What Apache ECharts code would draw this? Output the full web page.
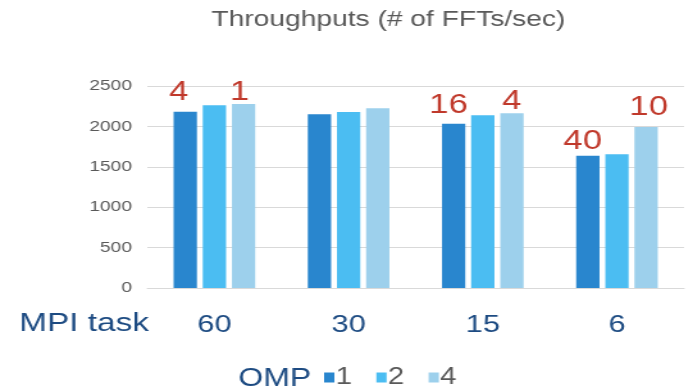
<!DOCTYPE html>
<html>
<head>
<meta charset="utf-8">
<script src="https://cdn.jsdelivr.net/npm/echarts@6/dist/echarts.min.js"></script>
<style>
  html, body { margin: 0; padding: 0; background: #fff; overflow: hidden; }
  /* chart is laid out narrow and widened horizontally */
  #stage { width: 541px; height: 390px; transform: scaleX(1.281); transform-origin: 0 0; }
</style>
</head>
<body>
<div id="stage"></div>
<script>
// MPI task counts along the x axis
const mpiTasks = ['60', '30', '15', '6'];
// Throughputs (FFTs/sec) per OMP thread count
const omp1 = [2182, 2149, 2034, 1637];
const omp2 = [2261, 2178, 2137, 1654];
const omp4 = [2277, 2224, 2162, 1993];
// red annotations above selected bars
const omp1Notes = ['4', '', '16', '40'];
const omp2Notes = ['', '', '', ''];
const omp4Notes = ['1', '', '4', '10'];
// y axis ticks
const yTicks = [0, 500, 1000, 1500, 2000, 2500];

// layout nudges for the annotations [dx, dy]
const noteNudge = {
  '0-0': [-5, -6], '0-2': [-4, -5], '0-3': [-4, -1],
  '2-0': [-3, 2],  '2-2': [0, 2],   '2-3': [2, -6]
};

const FONT = 'Arial, "Liberation Sans", sans-serif';
const GRAY = '#595959';
const NAVY = '#1d4b82';
const RED = '#c0392b';
const colors = ['#2986ce', '#4bbdf2', '#9dd0ec'];

function buildData(values, notes, s) {
  return values.map((v, i) => {
    if (!notes[i]) return v;
    const off = noteNudge[s + '-' + i] || [0, 0];
    return {
      value: v,
      label: { show: true, formatter: notes[i], offset: off }
    };
  });
}

const seriesDefs = [
  { name: '1', values: omp1, notes: omp1Notes },
  { name: '2', values: omp2, notes: omp2Notes },
  { name: '4', values: omp4, notes: omp4Notes }
];

const chart = echarts.init(document.getElementById('stage'), null, { renderer: 'canvas' });
chart.setOption({
  animation: false,
  color: colors,
  textStyle: { fontFamily: FONT },
  title: [
    { text: 'Throughputs (# of FFTs/sec)', left: 165, top: 9, padding: 0,
      textStyle: { fontFamily: FONT, fontSize: 22, fontWeight: 'normal', color: GRAY } },
    { text: 'MPI task', left: 15, top: 311, padding: 0,
      textStyle: { fontFamily: FONT, fontSize: 26, fontWeight: 'normal', color: NAVY } },
    { text: 'OMP', left: 186, top: 367, padding: 0,
      textStyle: { fontFamily: FONT, fontSize: 25, fontWeight: 'normal', color: NAVY } }
  ],
  legend: {
    data: ['1', '2', '4'],
    left: 253, top: 366, padding: 0,
    icon: 'rect', itemWidth: 8, itemHeight: 10, itemGap: 19,
    textStyle: { fontFamily: FONT, fontSize: 23, color: GRAY, padding: [0, 0, 0, -4] }
  },
  grid: { left: 115, right: 7, top: 86, bottom: 102 },
  xAxis: {
    type: 'category',
    data: mpiTasks,
    axisLine: { lineStyle: { color: '#d9d9d9', width: 1 } },
    axisTick: { show: false },
    axisLabel: { margin: 25, fontFamily: FONT, fontSize: 24, color: NAVY }
  },
  yAxis: {
    type: 'value',
    min: yTicks[0], max: yTicks[yTicks.length - 1], interval: yTicks[1] - yTicks[0],
    axisLine: { show: false },
    axisTick: { show: false },
    splitLine: { lineStyle: { color: '#d9d9d9', width: 1 } },
    axisLabel: { margin: 12, fontFamily: FONT, fontSize: 15, color: GRAY,
      formatter: (v) => String(v) }
  },
  series: seriesDefs.map((d, s) => ({
    type: 'bar',
    name: d.name,
    barWidth: 18.2,
    barGap: '25%',
    label: { show: false, position: 'top', distance: 0, color: RED, fontFamily: FONT, fontSize: 27 },
    data: buildData(d.values, d.notes, s)
  }))
});
</script>
</body>
</html>
